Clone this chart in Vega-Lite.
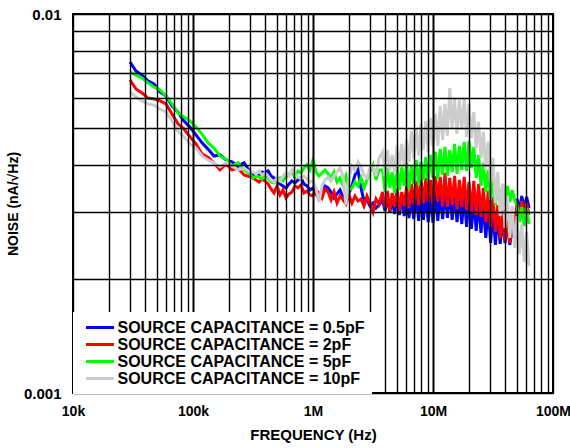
{
"$schema": "https://vega.github.io/schema/vega-lite/v6.json",
"width": 480, "height": 379,
"autosize": {"type": "none"},
"padding": {"left": 73, "top": 14, "right": 17, "bottom": 55},
"background": "white",
"config": {"view": {"stroke": "black", "strokeWidth": 2}, "font": "Liberation Sans"},
"data": {"values": [
{"cap":"0.5pF","freq":29850,"noise":0.00747},{"cap":"0.5pF","freq":33500,"noise":0.00707},{"cap":"0.5pF","freq":37580,"noise":0.00690},{"cap":"0.5pF","freq":42170,"noise":0.00666},{"cap":"0.5pF","freq":47320,"noise":0.00654},{"cap":"0.5pF","freq":53090,"noise":0.00623},{"cap":"0.5pF","freq":59570,"noise":0.00608},{"cap":"0.5pF","freq":66830,"noise":0.00572},{"cap":"0.5pF","freq":74990,"noise":0.00551},{"cap":"0.5pF","freq":84140,"noise":0.00522},{"cap":"0.5pF","freq":94410,"noise":0.00503},{"cap":"0.5pF","freq":105900,"noise":0.00480},{"cap":"0.5pF","freq":118900,"noise":0.00457},{"cap":"0.5pF","freq":133400,"noise":0.00440},{"cap":"0.5pF","freq":149600,"noise":0.00422},{"cap":"0.5pF","freq":167900,"noise":0.00425},{"cap":"0.5pF","freq":188400,"noise":0.00412},{"cap":"0.5pF","freq":211300,"noise":0.00407},{"cap":"0.5pF","freq":237100,"noise":0.00397},{"cap":"0.5pF","freq":266100,"noise":0.00405},{"cap":"0.5pF","freq":298500,"noise":0.00383},
{"cap":"0.5pF","freq":316200,"noise":0.003761},{"cap":"0.5pF","freq":335000,"noise":0.003784},{"cap":"0.5pF","freq":354800,"noise":0.003738},{"cap":"0.5pF","freq":375800,"noise":0.003830},{"cap":"0.5pF","freq":398100,"noise":0.003807},{"cap":"0.5pF","freq":421700,"noise":0.003854},{"cap":"0.5pF","freq":446700,"noise":0.003738},{"cap":"0.5pF","freq":473200,"noise":0.003693},{"cap":"0.5pF","freq":501200,"noise":0.003604},{"cap":"0.5pF","freq":530900,"noise":0.003561},{"cap":"0.5pF","freq":562300,"noise":0.003518},{"cap":"0.5pF","freq":595700,"noise":0.003476},{"cap":"0.5pF","freq":631000,"noise":0.003561},{"cap":"0.5pF","freq":668300,"noise":0.003626},{"cap":"0.5pF","freq":707900,"noise":0.003583},{"cap":"0.5pF","freq":749900,"noise":0.003648},{"cap":"0.5pF","freq":794300,"noise":0.003693},{"cap":"0.5pF","freq":841400,"noise":0.003561},{"cap":"0.5pF","freq":891300,"noise":0.003518},{"cap":"0.5pF","freq":944100,"noise":0.003433},{"cap":"0.5pF","freq":1000000,"noise":0.003476},{"cap":"0.5pF","freq":1059000,"noise":0.003351},{"cap":"0.5pF","freq":1122000,"noise":0.003271},{"cap":"0.5pF","freq":1189000,"noise":0.003433},{"cap":"0.5pF","freq":1259000,"noise":0.003518},{"cap":"0.5pF","freq":1334000,"noise":0.003476},{"cap":"0.5pF","freq":1413000,"noise":0.003392},{"cap":"0.5pF","freq":1496000,"noise":0.003271},{"cap":"0.5pF","freq":1585000,"noise":0.003351},{"cap":"0.5pF","freq":1679000,"noise":0.003433},{"cap":"0.5pF","freq":1778000,"noise":0.003291},{"cap":"0.5pF","freq":1884000,"noise":0.003231},{"cap":"0.5pF","freq":1995000,"noise":0.003372},{"cap":"0.5pF","freq":2113000,"noise":0.003518},{"cap":"0.5pF","freq":2239000,"noise":0.003761},{"cap":"0.5pF","freq":2371000,"noise":0.003877},{"cap":"0.5pF","freq":2512000,"noise":0.003476},{"cap":"0.5pF","freq":2661000,"noise":0.003212},{"cap":"0.5pF","freq":2818000,"noise":0.003231},{"cap":"0.5pF","freq":2985000,"noise":0.003114},{"cap":"0.5pF","freq":3162000,"noise":0.003172},{"cap":"0.5pF","freq":3350000,"noise":0.003077},{"cap":"0.5pF","freq":3548000,"noise":0.003133},
{"cap":"0.5pF","freq":3802000,"noise":0.003231},{"cap":"0.5pF","freq":3981000,"noise":0.003022},{"cap":"0.5pF","freq":4169000,"noise":0.003291},{"cap":"0.5pF","freq":4365000,"noise":0.003003},{"cap":"0.5pF","freq":4571000,"noise":0.003251},{"cap":"0.5pF","freq":4786000,"noise":0.002967},{"cap":"0.5pF","freq":5012000,"noise":0.003311},{"cap":"0.5pF","freq":5248000,"noise":0.002949},{"cap":"0.5pF","freq":5495000,"noise":0.003291},{"cap":"0.5pF","freq":5754000,"noise":0.002931},{"cap":"0.5pF","freq":6026000,"noise":0.003351},{"cap":"0.5pF","freq":6310000,"noise":0.002896},{"cap":"0.5pF","freq":6607000,"noise":0.003311},{"cap":"0.5pF","freq":6918000,"noise":0.002878},{"cap":"0.5pF","freq":7244000,"noise":0.003372},{"cap":"0.5pF","freq":7586000,"noise":0.002844},{"cap":"0.5pF","freq":7943000,"noise":0.003331},{"cap":"0.5pF","freq":8318000,"noise":0.002861},{"cap":"0.5pF","freq":8710000,"noise":0.003372},{"cap":"0.5pF","freq":9120000,"noise":0.002826},{"cap":"0.5pF","freq":9550000,"noise":0.003351},{"cap":"0.5pF","freq":10000000,"noise":0.002809},{"cap":"0.5pF","freq":10470000,"noise":0.003392},{"cap":"0.5pF","freq":10960000,"noise":0.002844},{"cap":"0.5pF","freq":11480000,"noise":0.003372},{"cap":"0.5pF","freq":12020000,"noise":0.002878},{"cap":"0.5pF","freq":12590000,"noise":0.003413},{"cap":"0.5pF","freq":13180000,"noise":0.002896},{"cap":"0.5pF","freq":13800000,"noise":0.003392},{"cap":"0.5pF","freq":14450000,"noise":0.002861},{"cap":"0.5pF","freq":15140000,"noise":0.003351},{"cap":"0.5pF","freq":15850000,"noise":0.002826},{"cap":"0.5pF","freq":16600000,"noise":0.003311},{"cap":"0.5pF","freq":17380000,"noise":0.002792},{"cap":"0.5pF","freq":18200000,"noise":0.003331},{"cap":"0.5pF","freq":19050000,"noise":0.002742},{"cap":"0.5pF","freq":19950000,"noise":0.003271},{"cap":"0.5pF","freq":20890000,"noise":0.002709},{"cap":"0.5pF","freq":21880000,"noise":0.003251},{"cap":"0.5pF","freq":22910000,"noise":0.002676},{"cap":"0.5pF","freq":23990000,"noise":0.003212},{"cap":"0.5pF","freq":25120000,"noise":0.002644},{"cap":"0.5pF","freq":26300000,"noise":0.003153},{"cap":"0.5pF","freq":27540000,"noise":0.002565},{"cap":"0.5pF","freq":28840000,"noise":0.003096},{"cap":"0.5pF","freq":30200000,"noise":0.002488},{"cap":"0.5pF","freq":31620000,"noise":0.003003},{"cap":"0.5pF","freq":33110000,"noise":0.002458},{"cap":"0.5pF","freq":34670000,"noise":0.002931},{"cap":"0.5pF","freq":36310000,"noise":0.002473},{"cap":"0.5pF","freq":38020000,"noise":0.002861},{"cap":"0.5pF","freq":39810000,"noise":0.002488},{"cap":"0.5pF","freq":41690000,"noise":0.002826},{"cap":"0.5pF","freq":43650000,"noise":0.002458},{"cap":"0.5pF","freq":45710000,"noise":0.002758},{"cap":"0.5pF","freq":47860000,"noise":0.002533},{"cap":"0.5pF","freq":50120000,"noise":0.003251},{"cap":"0.5pF","freq":52480000,"noise":0.003040},{"cap":"0.5pF","freq":54950000,"noise":0.003311},{"cap":"0.5pF","freq":57540000,"noise":0.003058},{"cap":"0.5pF","freq":60260000,"noise":0.003291},{"cap":"0.5pF","freq":63100000,"noise":0.003077},

{"cap":"2pF","freq":29850,"noise":0.00670},{"cap":"2pF","freq":33500,"noise":0.00634},{"cap":"2pF","freq":37580,"noise":0.00619},{"cap":"2pF","freq":42170,"noise":0.00600},{"cap":"2pF","freq":47320,"noise":0.00597},{"cap":"2pF","freq":53090,"noise":0.00590},{"cap":"2pF","freq":59570,"noise":0.00579},{"cap":"2pF","freq":66830,"noise":0.00545},{"cap":"2pF","freq":74990,"noise":0.00513},{"cap":"2pF","freq":84140,"noise":0.00497},{"cap":"2pF","freq":94410,"noise":0.00474},{"cap":"2pF","freq":105900,"noise":0.00454},{"cap":"2pF","freq":118900,"noise":0.00427},{"cap":"2pF","freq":133400,"noise":0.00419},{"cap":"2pF","freq":149600,"noise":0.00405},{"cap":"2pF","freq":167900,"noise":0.00388},{"cap":"2pF","freq":188400,"noise":0.00402},{"cap":"2pF","freq":211300,"noise":0.00388},{"cap":"2pF","freq":237100,"noise":0.00392},{"cap":"2pF","freq":266100,"noise":0.00376},{"cap":"2pF","freq":298500,"noise":0.00372},
{"cap":"2pF","freq":316200,"noise":0.003693},{"cap":"2pF","freq":335000,"noise":0.003648},{"cap":"2pF","freq":354800,"noise":0.003604},{"cap":"2pF","freq":375800,"noise":0.003671},{"cap":"2pF","freq":398100,"noise":0.003626},{"cap":"2pF","freq":421700,"noise":0.003561},{"cap":"2pF","freq":446700,"noise":0.003455},{"cap":"2pF","freq":473200,"noise":0.003372},{"cap":"2pF","freq":501200,"noise":0.003518},{"cap":"2pF","freq":530900,"noise":0.003331},{"cap":"2pF","freq":562300,"noise":0.003433},{"cap":"2pF","freq":595700,"noise":0.003271},{"cap":"2pF","freq":631000,"noise":0.003351},{"cap":"2pF","freq":668300,"noise":0.003392},{"cap":"2pF","freq":707900,"noise":0.003518},{"cap":"2pF","freq":749900,"noise":0.003476},{"cap":"2pF","freq":794300,"noise":0.003539},{"cap":"2pF","freq":841400,"noise":0.003372},{"cap":"2pF","freq":891300,"noise":0.003413},{"cap":"2pF","freq":944100,"noise":0.003331},{"cap":"2pF","freq":1000000,"noise":0.003311},{"cap":"2pF","freq":1059000,"noise":0.003433},{"cap":"2pF","freq":1122000,"noise":0.003372},{"cap":"2pF","freq":1189000,"noise":0.003271},{"cap":"2pF","freq":1259000,"noise":0.003455},{"cap":"2pF","freq":1334000,"noise":0.003392},{"cap":"2pF","freq":1413000,"noise":0.003231},{"cap":"2pF","freq":1496000,"noise":0.003392},{"cap":"2pF","freq":1585000,"noise":0.003172},{"cap":"2pF","freq":1679000,"noise":0.003311},{"cap":"2pF","freq":1778000,"noise":0.003231},{"cap":"2pF","freq":1884000,"noise":0.003153},{"cap":"2pF","freq":1995000,"noise":0.003331},{"cap":"2pF","freq":2113000,"noise":0.003172},{"cap":"2pF","freq":2239000,"noise":0.003311},{"cap":"2pF","freq":2371000,"noise":0.003212},{"cap":"2pF","freq":2512000,"noise":0.003251},{"cap":"2pF","freq":2661000,"noise":0.003114},{"cap":"2pF","freq":2818000,"noise":0.003311},{"cap":"2pF","freq":2985000,"noise":0.003172},{"cap":"2pF","freq":3162000,"noise":0.003003},{"cap":"2pF","freq":3350000,"noise":0.003251},{"cap":"2pF","freq":3548000,"noise":0.003153},
{"cap":"2pF","freq":3802000,"noise":0.003392},{"cap":"2pF","freq":3981000,"noise":0.003077},{"cap":"2pF","freq":4169000,"noise":0.003413},{"cap":"2pF","freq":4365000,"noise":0.003022},{"cap":"2pF","freq":4571000,"noise":0.003372},{"cap":"2pF","freq":4786000,"noise":0.003096},{"cap":"2pF","freq":5012000,"noise":0.003455},{"cap":"2pF","freq":5248000,"noise":0.003040},{"cap":"2pF","freq":5495000,"noise":0.003392},{"cap":"2pF","freq":5754000,"noise":0.003114},{"cap":"2pF","freq":6026000,"noise":0.003518},{"cap":"2pF","freq":6310000,"noise":0.003077},{"cap":"2pF","freq":6607000,"noise":0.003561},{"cap":"2pF","freq":6918000,"noise":0.003153},{"cap":"2pF","freq":7244000,"noise":0.003626},{"cap":"2pF","freq":7586000,"noise":0.003133},{"cap":"2pF","freq":7943000,"noise":0.003671},{"cap":"2pF","freq":8318000,"noise":0.003172},{"cap":"2pF","freq":8710000,"noise":0.003693},{"cap":"2pF","freq":9120000,"noise":0.003192},{"cap":"2pF","freq":9550000,"noise":0.003648},{"cap":"2pF","freq":10000000,"noise":0.003153},{"cap":"2pF","freq":10470000,"noise":0.003738},{"cap":"2pF","freq":10960000,"noise":0.003212},{"cap":"2pF","freq":11480000,"noise":0.003716},{"cap":"2pF","freq":12020000,"noise":0.003114},{"cap":"2pF","freq":12590000,"noise":0.003807},{"cap":"2pF","freq":13180000,"noise":0.003096},{"cap":"2pF","freq":13800000,"noise":0.003693},{"cap":"2pF","freq":14450000,"noise":0.003133},{"cap":"2pF","freq":15140000,"noise":0.003738},{"cap":"2pF","freq":15850000,"noise":0.003058},{"cap":"2pF","freq":16600000,"noise":0.003648},{"cap":"2pF","freq":17380000,"noise":0.003096},{"cap":"2pF","freq":18200000,"noise":0.003716},{"cap":"2pF","freq":19050000,"noise":0.003040},{"cap":"2pF","freq":19950000,"noise":0.003604},{"cap":"2pF","freq":20890000,"noise":0.003003},{"cap":"2pF","freq":21880000,"noise":0.003626},{"cap":"2pF","freq":22910000,"noise":0.002949},{"cap":"2pF","freq":23990000,"noise":0.003561},{"cap":"2pF","freq":25120000,"noise":0.002913},{"cap":"2pF","freq":26300000,"noise":0.003476},{"cap":"2pF","freq":27540000,"noise":0.002826},{"cap":"2pF","freq":28840000,"noise":0.003413},{"cap":"2pF","freq":30200000,"noise":0.002742},{"cap":"2pF","freq":31620000,"noise":0.003291},{"cap":"2pF","freq":33110000,"noise":0.002660},{"cap":"2pF","freq":34670000,"noise":0.003133},{"cap":"2pF","freq":36310000,"noise":0.002565},{"cap":"2pF","freq":38020000,"noise":0.003040},{"cap":"2pF","freq":39810000,"noise":0.002518},{"cap":"2pF","freq":41690000,"noise":0.002861},{"cap":"2pF","freq":43650000,"noise":0.002488},{"cap":"2pF","freq":45710000,"noise":0.002967},{"cap":"2pF","freq":47860000,"noise":0.002660},{"cap":"2pF","freq":50120000,"noise":0.003153},{"cap":"2pF","freq":52480000,"noise":0.002913},{"cap":"2pF","freq":54950000,"noise":0.003212},{"cap":"2pF","freq":57540000,"noise":0.002878},{"cap":"2pF","freq":60260000,"noise":0.003172},{"cap":"2pF","freq":63100000,"noise":0.002949},

{"cap":"5pF","freq":29850,"noise":0.00703},{"cap":"5pF","freq":33500,"noise":0.00690},{"cap":"5pF","freq":37580,"noise":0.00678},{"cap":"5pF","freq":42170,"noise":0.00658},{"cap":"5pF","freq":47320,"noise":0.00642},{"cap":"5pF","freq":53090,"noise":0.00630},{"cap":"5pF","freq":59570,"noise":0.00608},{"cap":"5pF","freq":66830,"noise":0.00579},{"cap":"5pF","freq":74990,"noise":0.00548},{"cap":"5pF","freq":84140,"noise":0.00535},{"cap":"5pF","freq":94410,"noise":0.00522},{"cap":"5pF","freq":105900,"noise":0.00503},{"cap":"5pF","freq":118900,"noise":0.00482},{"cap":"5pF","freq":133400,"noise":0.00457},{"cap":"5pF","freq":149600,"noise":0.00443},{"cap":"5pF","freq":167900,"noise":0.00422},{"cap":"5pF","freq":188400,"noise":0.00414},{"cap":"5pF","freq":211300,"noise":0.00397},{"cap":"5pF","freq":237100,"noise":0.00405},{"cap":"5pF","freq":266100,"noise":0.00388},{"cap":"5pF","freq":298500,"noise":0.00378},
{"cap":"5pF","freq":316200,"noise":0.003693},{"cap":"5pF","freq":335000,"noise":0.003738},{"cap":"5pF","freq":354800,"noise":0.003716},{"cap":"5pF","freq":375800,"noise":0.003671},{"cap":"5pF","freq":398100,"noise":0.003738},{"cap":"5pF","freq":421700,"noise":0.003693},{"cap":"5pF","freq":446700,"noise":0.003604},{"cap":"5pF","freq":473200,"noise":0.003583},{"cap":"5pF","freq":501200,"noise":0.003648},{"cap":"5pF","freq":530900,"noise":0.003693},{"cap":"5pF","freq":562300,"noise":0.003626},{"cap":"5pF","freq":595700,"noise":0.003716},{"cap":"5pF","freq":631000,"noise":0.003784},{"cap":"5pF","freq":668300,"noise":0.003830},{"cap":"5pF","freq":707900,"noise":0.003693},{"cap":"5pF","freq":749900,"noise":0.003854},{"cap":"5pF","freq":794300,"noise":0.003807},{"cap":"5pF","freq":841400,"noise":0.003924},{"cap":"5pF","freq":891300,"noise":0.003996},{"cap":"5pF","freq":944100,"noise":0.003877},{"cap":"5pF","freq":1000000,"noise":0.004120},{"cap":"5pF","freq":1059000,"noise":0.003830},{"cap":"5pF","freq":1122000,"noise":0.003738},{"cap":"5pF","freq":1189000,"noise":0.003807},{"cap":"5pF","freq":1259000,"noise":0.003877},{"cap":"5pF","freq":1334000,"noise":0.003784},{"cap":"5pF","freq":1413000,"noise":0.003693},{"cap":"5pF","freq":1496000,"noise":0.003830},{"cap":"5pF","freq":1585000,"noise":0.003604},{"cap":"5pF","freq":1679000,"noise":0.003693},{"cap":"5pF","freq":1778000,"noise":0.003539},{"cap":"5pF","freq":1884000,"noise":0.003738},{"cap":"5pF","freq":1995000,"noise":0.003433},{"cap":"5pF","freq":2113000,"noise":0.003476},{"cap":"5pF","freq":2239000,"noise":0.003604},{"cap":"5pF","freq":2371000,"noise":0.003518},{"cap":"5pF","freq":2512000,"noise":0.003693},{"cap":"5pF","freq":2661000,"noise":0.003476},{"cap":"5pF","freq":2818000,"noise":0.003648},{"cap":"5pF","freq":2985000,"noise":0.003830},{"cap":"5pF","freq":3162000,"noise":0.003996},{"cap":"5pF","freq":3350000,"noise":0.003648},{"cap":"5pF","freq":3548000,"noise":0.003877},
{"cap":"5pF","freq":3802000,"noise":0.003877},{"cap":"5pF","freq":3981000,"noise":0.003392},{"cap":"5pF","freq":4169000,"noise":0.003924},{"cap":"5pF","freq":4365000,"noise":0.003476},{"cap":"5pF","freq":4571000,"noise":0.003830},{"cap":"5pF","freq":4786000,"noise":0.003372},{"cap":"5pF","freq":5012000,"noise":0.003972},{"cap":"5pF","freq":5248000,"noise":0.003433},{"cap":"5pF","freq":5495000,"noise":0.003948},{"cap":"5pF","freq":5754000,"noise":0.003518},{"cap":"5pF","freq":6026000,"noise":0.004045},{"cap":"5pF","freq":6310000,"noise":0.003455},{"cap":"5pF","freq":6607000,"noise":0.003996},{"cap":"5pF","freq":6918000,"noise":0.003561},{"cap":"5pF","freq":7244000,"noise":0.004120},{"cap":"5pF","freq":7586000,"noise":0.003539},{"cap":"5pF","freq":7943000,"noise":0.004070},{"cap":"5pF","freq":8318000,"noise":0.003648},{"cap":"5pF","freq":8710000,"noise":0.004195},{"cap":"5pF","freq":9120000,"noise":0.003626},{"cap":"5pF","freq":9550000,"noise":0.004246},{"cap":"5pF","freq":10000000,"noise":0.003693},{"cap":"5pF","freq":10470000,"noise":0.004325},{"cap":"5pF","freq":10960000,"noise":0.003671},{"cap":"5pF","freq":11480000,"noise":0.004404},{"cap":"5pF","freq":12020000,"noise":0.003761},{"cap":"5pF","freq":12590000,"noise":0.004458},{"cap":"5pF","freq":13180000,"noise":0.003738},{"cap":"5pF","freq":13800000,"noise":0.004378},{"cap":"5pF","freq":14450000,"noise":0.003830},{"cap":"5pF","freq":15140000,"noise":0.004540},{"cap":"5pF","freq":15850000,"noise":0.003784},{"cap":"5pF","freq":16600000,"noise":0.004485},{"cap":"5pF","freq":17380000,"noise":0.003877},{"cap":"5pF","freq":18200000,"noise":0.004596},{"cap":"5pF","freq":19050000,"noise":0.003854},{"cap":"5pF","freq":19950000,"noise":0.004624},{"cap":"5pF","freq":20890000,"noise":0.003924},{"cap":"5pF","freq":21880000,"noise":0.004458},{"cap":"5pF","freq":22910000,"noise":0.003693},{"cap":"5pF","freq":23990000,"noise":0.004246},{"cap":"5pF","freq":25120000,"noise":0.003518},{"cap":"5pF","freq":26300000,"noise":0.004045},{"cap":"5pF","freq":27540000,"noise":0.003392},{"cap":"5pF","freq":28840000,"noise":0.003877},{"cap":"5pF","freq":30200000,"noise":0.003231},{"cap":"5pF","freq":31620000,"noise":0.003693},{"cap":"5pF","freq":33110000,"noise":0.003133},{"cap":"5pF","freq":34670000,"noise":0.003604},{"cap":"5pF","freq":36310000,"noise":0.003040},{"cap":"5pF","freq":38020000,"noise":0.003561},{"cap":"5pF","freq":39810000,"noise":0.003153},{"cap":"5pF","freq":41690000,"noise":0.003518},{"cap":"5pF","freq":43650000,"noise":0.003192},{"cap":"5pF","freq":45710000,"noise":0.003433},{"cap":"5pF","freq":47860000,"noise":0.003231},{"cap":"5pF","freq":50120000,"noise":0.003133},{"cap":"5pF","freq":52480000,"noise":0.002826},{"cap":"5pF","freq":54950000,"noise":0.003096},{"cap":"5pF","freq":57540000,"noise":0.002758},{"cap":"5pF","freq":60260000,"noise":0.003077},{"cap":"5pF","freq":63100000,"noise":0.002792},

{"cap":"10pF","freq":29850,"noise":0.00623},{"cap":"10pF","freq":33500,"noise":0.00604},{"cap":"10pF","freq":37580,"noise":0.00590},{"cap":"10pF","freq":42170,"noise":0.00579},{"cap":"10pF","freq":47320,"noise":0.00575},{"cap":"10pF","freq":53090,"noise":0.00561},{"cap":"10pF","freq":59570,"noise":0.00551},{"cap":"10pF","freq":66830,"noise":0.00522},{"cap":"10pF","freq":74990,"noise":0.00491},{"cap":"10pF","freq":84140,"noise":0.00474},{"cap":"10pF","freq":94410,"noise":0.00454},{"cap":"10pF","freq":105900,"noise":0.00443},{"cap":"10pF","freq":118900,"noise":0.00422},{"cap":"10pF","freq":133400,"noise":0.00412},{"cap":"10pF","freq":149600,"noise":0.00405},{"cap":"10pF","freq":167900,"noise":0.00395},{"cap":"10pF","freq":188400,"noise":0.00405},{"cap":"10pF","freq":211300,"noise":0.00397},{"cap":"10pF","freq":237100,"noise":0.00388},{"cap":"10pF","freq":266100,"noise":0.00392},{"cap":"10pF","freq":298500,"noise":0.00383},
{"cap":"10pF","freq":316200,"noise":0.003830},{"cap":"10pF","freq":335000,"noise":0.003784},{"cap":"10pF","freq":354800,"noise":0.003854},{"cap":"10pF","freq":375800,"noise":0.003761},{"cap":"10pF","freq":398100,"noise":0.003807},{"cap":"10pF","freq":421700,"noise":0.003738},{"cap":"10pF","freq":446700,"noise":0.003648},{"cap":"10pF","freq":473200,"noise":0.003604},{"cap":"10pF","freq":501200,"noise":0.003693},{"cap":"10pF","freq":530900,"noise":0.003626},{"cap":"10pF","freq":562300,"noise":0.003738},{"cap":"10pF","freq":595700,"noise":0.003807},{"cap":"10pF","freq":631000,"noise":0.003738},{"cap":"10pF","freq":668300,"noise":0.003877},{"cap":"10pF","freq":707900,"noise":0.003784},{"cap":"10pF","freq":749900,"noise":0.003716},{"cap":"10pF","freq":794300,"noise":0.003671},{"cap":"10pF","freq":841400,"noise":0.003738},{"cap":"10pF","freq":891300,"noise":0.003671},{"cap":"10pF","freq":944100,"noise":0.003604},{"cap":"10pF","freq":1000000,"noise":0.003626},{"cap":"10pF","freq":1059000,"noise":0.003476},{"cap":"10pF","freq":1122000,"noise":0.003192},{"cap":"10pF","freq":1189000,"noise":0.003518},{"cap":"10pF","freq":1259000,"noise":0.003648},{"cap":"10pF","freq":1334000,"noise":0.003716},{"cap":"10pF","freq":1413000,"noise":0.003626},{"cap":"10pF","freq":1496000,"noise":0.003738},{"cap":"10pF","freq":1585000,"noise":0.003830},{"cap":"10pF","freq":1679000,"noise":0.003924},{"cap":"10pF","freq":1778000,"noise":0.003738},{"cap":"10pF","freq":1884000,"noise":0.003133},{"cap":"10pF","freq":1995000,"noise":0.003693},{"cap":"10pF","freq":2113000,"noise":0.003972},{"cap":"10pF","freq":2239000,"noise":0.003877},{"cap":"10pF","freq":2371000,"noise":0.004070},{"cap":"10pF","freq":2512000,"noise":0.003948},{"cap":"10pF","freq":2661000,"noise":0.003761},{"cap":"10pF","freq":2818000,"noise":0.003693},{"cap":"10pF","freq":2985000,"noise":0.003924},{"cap":"10pF","freq":3162000,"noise":0.003972},{"cap":"10pF","freq":3350000,"noise":0.003738},{"cap":"10pF","freq":3548000,"noise":0.004169},
{"cap":"10pF","freq":3802000,"noise":0.004325},{"cap":"10pF","freq":3981000,"noise":0.003738},{"cap":"10pF","freq":4169000,"noise":0.004378},{"cap":"10pF","freq":4365000,"noise":0.003877},{"cap":"10pF","freq":4571000,"noise":0.004246},{"cap":"10pF","freq":4786000,"noise":0.003784},{"cap":"10pF","freq":5012000,"noise":0.004485},{"cap":"10pF","freq":5248000,"noise":0.003924},{"cap":"10pF","freq":5495000,"noise":0.004540},{"cap":"10pF","freq":5754000,"noise":0.003972},{"cap":"10pF","freq":6026000,"noise":0.004652},{"cap":"10pF","freq":6310000,"noise":0.004070},{"cap":"10pF","freq":6607000,"noise":0.004913},{"cap":"10pF","freq":6918000,"noise":0.004169},{"cap":"10pF","freq":7244000,"noise":0.005004},{"cap":"10pF","freq":7586000,"noise":0.004220},{"cap":"10pF","freq":7943000,"noise":0.005127},{"cap":"10pF","freq":8318000,"noise":0.004378},{"cap":"10pF","freq":8710000,"noise":0.005221},{"cap":"10pF","freq":9120000,"noise":0.004325},{"cap":"10pF","freq":9550000,"noise":0.005317},{"cap":"10pF","freq":10000000,"noise":0.004458},{"cap":"10pF","freq":10470000,"noise":0.005448},{"cap":"10pF","freq":10960000,"noise":0.004485},{"cap":"10pF","freq":11480000,"noise":0.005719},{"cap":"10pF","freq":12020000,"noise":0.004652},{"cap":"10pF","freq":12590000,"noise":0.005789},{"cap":"10pF","freq":13180000,"noise":0.004767},{"cap":"10pF","freq":13800000,"noise":0.006379},{"cap":"10pF","freq":14450000,"noise":0.005004},{"cap":"10pF","freq":15140000,"noise":0.005967},{"cap":"10pF","freq":15850000,"noise":0.004825},{"cap":"10pF","freq":16600000,"noise":0.005931},{"cap":"10pF","freq":17380000,"noise":0.004943},{"cap":"10pF","freq":18200000,"noise":0.006003},{"cap":"10pF","freq":19050000,"noise":0.004738},{"cap":"10pF","freq":19950000,"noise":0.005789},{"cap":"10pF","freq":20890000,"noise":0.004710},{"cap":"10pF","freq":21880000,"noise":0.005513},{"cap":"10pF","freq":22910000,"noise":0.004431},{"cap":"10pF","freq":23990000,"noise":0.005190},{"cap":"10pF","freq":25120000,"noise":0.004169},{"cap":"10pF","freq":26300000,"noise":0.004883},{"cap":"10pF","freq":27540000,"noise":0.003877},{"cap":"10pF","freq":28840000,"noise":0.004596},{"cap":"10pF","freq":30200000,"noise":0.003604},{"cap":"10pF","freq":31620000,"noise":0.004169},{"cap":"10pF","freq":33110000,"noise":0.003172},{"cap":"10pF","freq":34670000,"noise":0.003830},{"cap":"10pF","freq":36310000,"noise":0.002931},{"cap":"10pF","freq":38020000,"noise":0.003561},{"cap":"10pF","freq":39810000,"noise":0.002725},{"cap":"10pF","freq":41690000,"noise":0.003311},{"cap":"10pF","freq":43650000,"noise":0.002565},{"cap":"10pF","freq":45710000,"noise":0.003114},{"cap":"10pF","freq":47860000,"noise":0.002413},{"cap":"10pF","freq":50120000,"noise":0.002931},{"cap":"10pF","freq":52480000,"noise":0.002327},{"cap":"10pF","freq":54950000,"noise":0.002792},{"cap":"10pF","freq":57540000,"noise":0.002216},{"cap":"10pF","freq":60260000,"noise":0.002660},{"cap":"10pF","freq":63100000,"noise":0.002163}
]},
"mark": {"type": "line", "strokeWidth": 3},
"encoding": {
  "x": {"field": "freq", "type": "quantitative",
    "scale": {"type": "log", "domain": [10000, 100000000]},
    "axis": {"title": "FREQUENCY (Hz)", "zindex": 1,
      "values": [10000,20000,30000,40000,50000,60000,70000,80000,90000,100000,200000,300000,400000,500000,600000,700000,800000,900000,1000000,2000000,3000000,4000000,5000000,6000000,7000000,8000000,9000000,10000000,20000000,30000000,40000000,50000000,60000000,70000000,80000000,90000000,100000000],
      "labelExpr": "datum.value==1e4?'10k':datum.value==1e5?'100k':datum.value==1e6?'1M':datum.value==1e7?'10M':datum.value==1e8?'100M':''",
      "grid": true, "gridColor": "black", "gridOpacity": 1,
      "gridWidth": {"condition": {"test": "indexof([1e5,1e6,1e7], datum.value) >= 0", "value": 2}, "value": 1.4},
      "domain": false, "ticks": false, "labelFlush": false, "labelOverlap": false, "labelBound": false,
      "labelFont": "Liberation Sans", "labelFontWeight": "bold", "labelFontSize": 14, "labelColor": "black", "labelPadding": 11, "labelDx": -4,
      "titleFont": "Liberation Sans", "titleFontWeight": "bold", "titleFontSize": 15, "titleColor": "black", "titlePadding": 9}},
  "y": {"field": "noise", "type": "quantitative",
    "scale": {"type": "log", "domain": [0.001, 0.01]},
    "axis": {"title": "NOISE (nA/√Hz)", "zindex": 1,
      "values": [0.001,0.002,0.003,0.004,0.005,0.006,0.007,0.008,0.009,0.01],
      "labelExpr": "datum.value==0.01?'0.01':datum.value==0.001?'0.001':''",
      "grid": true, "gridColor": "black", "gridOpacity": 1, "gridWidth": 1.4,
      "domain": false, "ticks": false, "labelFlush": false, "labelOverlap": false, "labelBound": false,
      "labelFont": "Liberation Sans", "labelFontWeight": "bold", "labelFontSize": 15, "labelColor": "black", "labelPadding": 12,
      "titleFont": "Liberation Sans", "titleFontWeight": "bold", "titleFontSize": 14, "titleColor": "black", "titlePadding": 3}},
  "color": {"field": "cap", "type": "nominal",
    "scale": {"domain": ["0.5pF","2pF","5pF","10pF"], "range": ["#0000ff","#ff0000","#00ff00","#cccccc"]},
    "legend": {"orient": "none", "legendX": 0, "legendY": 298, "title": null, "zindex": 2,
      "fillColor": "white", "padding": 7, "symbolType": "M-2,0H2", "symbolSize": 196, "symbolStrokeWidth": 3,
      "symbolOffset": 11.5, "labelOffset": 9, "rowPadding": -1,
      "labelFont": "Liberation Sans", "labelFontWeight": "bold", "labelFontSize": 16, "labelColor": "black", "labelLimit": 400,
      "labelExpr": "'SOURCE CAPACITANCE = ' + datum.label"}}
}
}
